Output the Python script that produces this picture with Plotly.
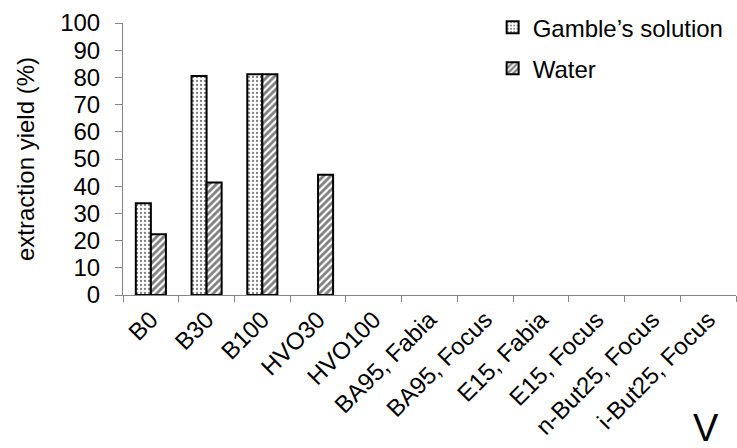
import plotly.graph_objects as go

categories = ["B0", "B30", "B100", "HVO30", "HVO100", "BA95, Fabia", "BA95, Focus",
              "E15, Fabia", "E15, Focus", "n-But25, Focus", "i-But25, Focus"]
gamble = [33.7, 80.5, 81.2, None, None, None, None, None, None, None, None]
water = [22.3, 41.4, 81.2, 44.2, None, None, None, None, None, None, None]
y_ticks = list(range(0, 101, 10))

FONT = "Liberation Sans, Arial, sans-serif"

fig = go.Figure()
fig.add_trace(go.Bar(
    x=categories, y=gamble, name="Gamble\u2019s solution", legendgroup="g",
    marker=dict(color="white", line=dict(color="black", width=2),
                pattern=dict(shape=".", fgcolor="black", bgcolor="white", size=4, solidity=0.25)),
))
fig.add_trace(go.Bar(
    x=categories, y=water, name="Water", legendgroup="w",
    marker=dict(color="white", line=dict(color="black", width=2),
                pattern=dict(shape="/", fgcolor="black", bgcolor="white", size=5, solidity=0.55)),
))

fig.update_layout(
    width=737, height=448,
    margin=dict(l=123, r=1, t=23, b=153, autoexpand=False),
    paper_bgcolor="white", plot_bgcolor="white",
    barmode="group", bargap=0.46, bargroupgap=0,
    font=dict(family=FONT, size=23, color="black"),
    showlegend=True,
    legend=dict(x=0.603, y=1.066, xanchor="left", yanchor="top",
                font=dict(size=24), tracegroupgap=7, bgcolor="rgba(0,0,0,0)",
                itemwidth=30),
    xaxis=dict(showline=True, linecolor="#868686", linewidth=1,
               ticks="outside", tickson="boundaries", ticklen=6, tickcolor="#868686",
               tickangle=-45, tickfont=dict(size=24), showgrid=False),
    yaxis=dict(range=[0, 100], tickvals=y_ticks, showline=True, linecolor="#868686",
               linewidth=1, ticks="outside", ticklen=7, tickcolor="#868686",
               showgrid=False, zeroline=False, tickfont=dict(size=24),
               ticklabelstandoff=10,
               title=dict(text="extraction yield (%)", font=dict(size=24), standoff=18)),
)

fig.add_annotation(text="V", xref="paper", yref="paper", x=0.951, y=-0.489,
                   showarrow=False, font=dict(size=38, color="black", family=FONT),
                   xanchor="center", yanchor="middle")

fig.write_html("out.html", config={"displayModeBar": False},
               post_script="document.body.style.margin='0';")
